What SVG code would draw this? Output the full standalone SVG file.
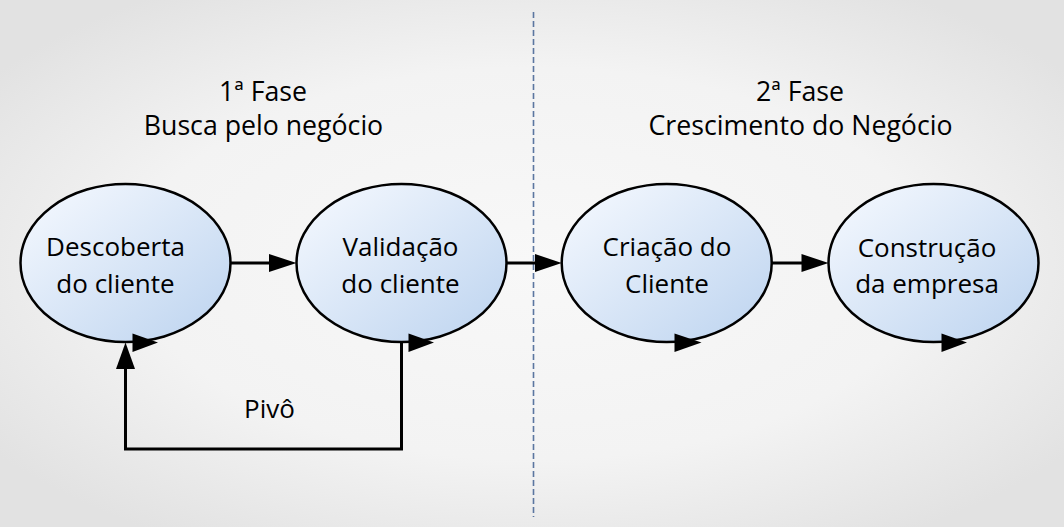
<svg xmlns="http://www.w3.org/2000/svg" width="1064" height="527" viewBox="0 0 1064 527">
<defs>
<radialGradient id="bg" cx="50%" cy="50%" r="62%">
<stop offset="0" stop-color="#f8f8f8"/>
<stop offset="0.6" stop-color="#f3f3f3"/>
<stop offset="1" stop-color="#e2e2e2"/>
</radialGradient>
<linearGradient id="nodeFill" x1="0" y1="0" x2="1" y2="1">
<stop offset="0" stop-color="#f7faff"/>
<stop offset="1" stop-color="#bcd3ef"/>
</linearGradient>
<style>
.node ellipse{fill:url(#nodeFill);stroke:#000;stroke-width:2.5}
.lbl{font-family:"Open Sans","Noto Sans",sans-serif;font-size:26px;fill:#000;text-anchor:middle}
.ttl{font-size:26.7px}
.line{fill:none;stroke:#000;stroke-width:3}
.head{fill:#000}
.divider{stroke:#5b76a0;stroke-width:1.6;stroke-dasharray:6 3}
</style>
</defs>
<rect x="0" y="0" width="1064" height="527" fill="url(#bg)"/>
<line class="divider" x1="533.5" y1="12" x2="533.5" y2="517"/>
<g id="titles">
<text class="lbl ttl" x="263" y="101">1ª Fase</text>
<text class="lbl ttl" x="263.5" y="135">Busca pelo negócio</text>
<text class="lbl ttl" x="800" y="101">2ª Fase</text>
<text class="lbl ttl" x="800.5" y="135">Crescimento do Negócio</text>
</g>
<g id="connectors">
<line class="line" x1="230" y1="263" x2="271" y2="263"/>
<polygon class="head" points="269,254 296.5,263 269,272"/>
<line class="line" x1="506" y1="263" x2="537" y2="263"/>
<polygon class="head" points="535,254 561.7,263 535,272"/>
<line class="line" x1="771.5" y1="263" x2="803" y2="263"/>
<polygon class="head" points="801.5,254 828.5,263 801.5,272"/>
<path class="line" d="M401.5,342 V449 H125.5 V366"/>
<polygon class="head" points="116,369 125.5,342.5 135,369"/>
<text class="lbl" x="269.5" y="418">Pivô</text>
</g>
<g id="node1" class="node">
<ellipse cx="125.5" cy="263" rx="105" ry="79"/>
<polygon class="head" points="132.5,333.5 158,342.5 132.5,352"/>
<text class="lbl" x="115.5" y="256">Descoberta</text>
<text class="lbl" x="115.5" y="293">do cliente</text>
</g>
<g id="node2" class="node">
<ellipse cx="401.5" cy="263" rx="105" ry="79"/>
<polygon class="head" points="408.5,333.5 434,342.5 408.5,352"/>
<text class="lbl" x="400.5" y="256">Validação</text>
<text class="lbl" x="400.5" y="293">do cliente</text>
</g>
<g id="node3" class="node">
<ellipse cx="666.7" cy="263" rx="105" ry="79"/>
<polygon class="head" points="674.5,333.5 701.5,342.5 674.5,352"/>
<text class="lbl" x="667" y="256">Criação do</text>
<text class="lbl" x="667" y="293">Cliente</text>
</g>
<g id="node4" class="node">
<ellipse cx="933.5" cy="263" rx="105" ry="79"/>
<polygon class="head" points="941.5,333.5 967,342.5 941.5,352"/>
<text class="lbl" x="927" y="257">Construção</text>
<text class="lbl" x="927" y="293">da empresa</text>
</g>
</svg>
